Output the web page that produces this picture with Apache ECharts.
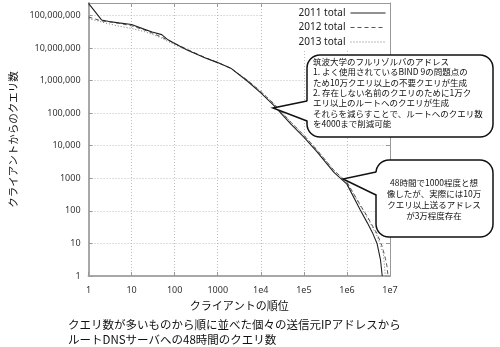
<!DOCTYPE html>
<html><head><meta charset="utf-8">
<script src="https://cdn.jsdelivr.net/npm/echarts@6/dist/echarts.min.js"></script>
<style>html,body{margin:0;padding:0;background:#fff}#c{width:500px;height:347px}</style>
</head><body><div id="c"></div>
<script>
// ---- data ----
var ranks = [1,2,3,5,10,20,30,50,70,100,200,500,1000,2000,5000,1e4,2e4,5e4,1e5,2e5,5e5,1e6,2e6,3e6,4e6,5e6,6e6,6.6e6,7e6,7.8e6,8.5e6,9e6];
var total2011 = [234000000,72400000,64600000,58900000,52500000,37200000,30900000,25700000,17800000,13800000,8510000,5010000,3550000,2400000,933000,417000,174000,45700,18200,6610,1510,661,112,42,20,10,3.2,1,null,null,null,null];
var total2012 = [89100000,67600000,63100000,57500000,47900000,35500000,28800000,21400000,17400000,13800000,8910000,5130000,3550000,2400000,1000000,457000,195000,52500,20900,7410,1740,759,158,66,33,20,11,8,6,3.5,2,1];
var total2013 = [79400000,63100000,55000000,46800000,39800000,31600000,26300000,20000000,15800000,12600000,8510000,5010000,3550000,2400000,1000000,468000,200000,52500,21400,7590,1740,759,148,60,30,17,9,6,5,1,null,null];
var seriesNames = ['2011 total','2012 total','2013 total'];
var xTickLabels = ['1','10','100','1000','1e4','1e5','1e6','1e7'];
var yTickLabels = ['1','10','100','1000','10,000','100,000','1,000,000','10,000,000','100,000,000'];
var xTitle = 'クライアントの順位';
var yTitle = 'クライアントからのクエリ数';
var caption = ['クエリ数が多いものから順に並べた個々の送信元IPアドレスから','ルートDNSサーバへの48時間のクエリ数'];
var note1 = ['筑波大学のフルリゾルバのアドレス','1. よく使用されているBIND 9の問題点の','ため10万クエリ以上の不要クエリが生成','2. 存在しない名前のクエリのために1万ク','エリ以上のルートへのクエリが生成','それらを減らすことで、ルートへのクエリ数','を4000まで削減可能'];
var note2 = ['48時間で1000程度と想','像したが、実際には10万','クエリ以上送るアドレス','が3万程度存在'];

function pairs(vals){ return ranks.map(function(r,i){return [r, vals[i]];}).filter(function(p){return p[1]!=null;}); }
function expOf(v){ var e=Math.log10(v); var r=Math.round(e); return Math.abs(e-r)<1e-6 ? r : null; }
function callout(list,x0,y0,x1,y1,r,b1,b2,tx,ty){
  list.push({type:'rect', shape:{x:x0,y:y0,width:x1-x0,height:y1-y0,r:r}, style:{fill:'#fff', stroke:'#111', lineWidth:1.5}, z:100});
  list.push({type:'polygon', shape:{points:[[x0+2,b1],[tx,ty],[x0+2,b2]]}, style:{fill:'#fff', stroke:null}, z:101});
  list.push({type:'polyline', shape:{points:[[x0,b1],[tx,ty],[x0,b2]]}, style:{fill:null, stroke:'#111', lineWidth:1.5}, z:102});
}
var CJK = '"Noto Sans CJK JP", sans-serif';
var LAT = '"Noto Sans", sans-serif';
var gridCol = '#bdbdbd';

var chart = echarts.init(document.getElementById('c'), null, {renderer:'canvas'});
var graphics = [];
callout(graphics,307,55,493,137,13,101,121,273,108);
note1.forEach(function(t,i){ graphics.push({type:'text', x:313, y:61.5+i*10.4, style:{text:t, font:'8.5px '+CJK, fill:'#111', textVerticalAlign:'middle'}, z:103}); });
callout(graphics,376,160,493,237,13,172,195,343,179);
note2.forEach(function(t,i){ graphics.push({type:'text', x:434, y:183+i*11, style:{text:t, font:'8.5px '+CJK, fill:'#111', textAlign:'center', textVerticalAlign:'middle'}, z:103}); });
caption.forEach(function(t,i){ graphics.push({type:'text', x:68, y:325+i*14.5, style:{text:t, font:'11.5px '+CJK, fill:'#111', textVerticalAlign:'middle'}, z:103}); });

var styles = [
  {color:'#222', width:1.1, type:'solid'},
  {color:'#555', width:1, type:[4,3]},
  {color:'#777', width:1, type:[1,2]}
];
var seriesData = [total2011,total2012,total2013];

chart.setOption({
  animation:false,
  backgroundColor:'#fff',
  grid:{left:77, right:110, top:3, bottom:71},
  legend:{
    data:seriesNames, orient:'vertical', right:110, top:4, align:'right',
    itemWidth:35, itemHeight:8, itemGap:4.5,
    backgroundColor:'#fff', padding:[4,4,4,36],
    itemStyle:{opacity:0},
    lineStyle:{width:1},
    textStyle:{fontSize:10, fontFamily:LAT, color:'#222'}
  },
  xAxis:[{
    type:'log', logBase:10, min:1, max:1e7,
    name:xTitle, nameLocation:'middle', nameGap:21,
    nameTextStyle:{fontSize:11, fontFamily:CJK, color:'#111'},
    axisLine:{show:true, lineStyle:{color:'#a8a8a8', width:2}},
    axisTick:{show:true, inside:true, length:4, lineStyle:{color:'#999'}},
    axisLabel:{fontSize:9, fontFamily:LAT, color:'#333', margin:10,
      formatter:function(v){var e=expOf(v); return e==null?'':xTickLabels[e];}},
    splitLine:{show:true, lineStyle:{color:gridCol, type:[1,2], width:1}}
  },{
    type:'log', logBase:10, min:1, max:1e7, position:'top',
    axisLine:{show:true, lineStyle:{color:'#999', width:1}},
    axisTick:{show:true, inside:true, length:4, lineStyle:{color:'#999'}},
    axisLabel:{show:false}, splitLine:{show:false}
  }],
  yAxis:[{
    type:'log', logBase:10, min:1, max:2.4e8,
    name:yTitle, nameLocation:'middle', nameGap:58,
    nameTextStyle:{fontSize:10.5, fontFamily:CJK, color:'#111'},
    axisLine:{show:true, lineStyle:{color:'#a8a8a8', width:2}},
    axisTick:{show:true, inside:true, length:4, lineStyle:{color:'#999'}},
    axisLabel:{fontSize:9, fontFamily:LAT, color:'#333', margin:8,
      formatter:function(v){var e=expOf(v); return e==null?'':yTickLabels[e];}},
    splitLine:{show:true, lineStyle:{color:gridCol, type:[1,2], width:1}}
  },{
    type:'log', logBase:10, min:1, max:2.4e8, position:'right',
    axisLine:{show:true, lineStyle:{color:'#999', width:1}},
    axisTick:{show:true, inside:true, length:4, lineStyle:{color:'#999'}},
    axisLabel:{show:false}, splitLine:{show:false}
  }],
  series: seriesNames.map(function(n,i){
    return {name:n, type:'line', data:pairs(seriesData[i]), symbol:'none', showSymbol:false,
      lineStyle:{color:styles[i].color, width:styles[i].width, type:styles[i].type},
      itemStyle:{color:styles[i].color}, z:10-i};
  }),
  graphic: graphics
});
</script></body></html>
